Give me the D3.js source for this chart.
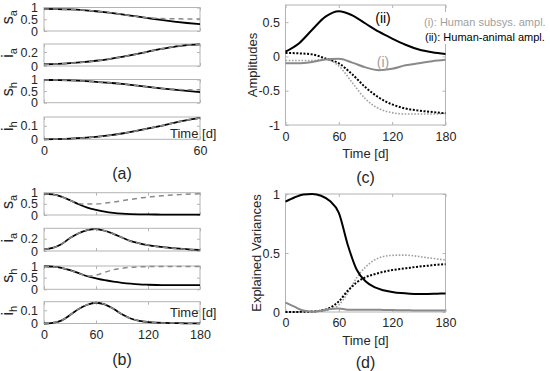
<!DOCTYPE html>
<html><head><meta charset="utf-8">
<script src="https://cdn.jsdelivr.net/npm/d3@7"></script>
<style>body{margin:0;background:#fff}svg{display:block}
svg text{font-family:Arial,"Liberation Sans",sans-serif !important;font-weight:400 !important;font-stretch:normal}</style>
</head><body><script>
// ---------- data ----------
// panel (a): first 60 days
const tA = [0,5,10,15,20,25,30,35,40,45,50,55,60];
const saA_solid  = [0.94,0.935,0.92,0.89,0.84,0.78,0.71,0.63,0.55,0.47,0.40,0.34,0.29];
const saA_dashed = [0.94,0.935,0.92,0.89,0.84,0.78,0.71,0.63,0.56,0.53,0.52,0.515,0.515];
const iaA        = [0.025,0.03,0.04,0.055,0.075,0.10,0.13,0.165,0.205,0.245,0.275,0.30,0.31];
const shA_solid  = [0.98,0.975,0.965,0.94,0.895,0.86,0.81,0.75,0.68,0.62,0.565,0.51,0.46];
const shA_dashed = [0.98,0.975,0.965,0.94,0.895,0.86,0.81,0.75,0.68,0.62,0.575,0.56,0.56];
const ihA        = [0,0.002,0.005,0.01,0.018,0.029,0.043,0.06,0.08,0.10,0.122,0.142,0.158];
// panel (b): 180 days
const tB = [0,10,20,30,40,50,60,70,80,90,100,110,120,130,140,150,160,170,180];
const saB_solid  = [0.95,0.92,0.82,0.66,0.48,0.33,0.23,0.15,0.095,0.06,0.04,0.03,0.025,0.022,0.02,0.02,0.02,0.02,0.02];
const saB_dashed = [0.95,0.92,0.82,0.66,0.51,0.49,0.49,0.53,0.58,0.64,0.70,0.76,0.80,0.84,0.87,0.90,0.92,0.94,0.95];
const iaB        = [0.028,0.05,0.11,0.21,0.29,0.34,0.355,0.33,0.28,0.22,0.16,0.125,0.097,0.075,0.058,0.045,0.033,0.024,0.017];
const shB_solid  = [0.99,0.97,0.92,0.82,0.69,0.56,0.47,0.39,0.33,0.28,0.24,0.21,0.195,0.185,0.18,0.178,0.176,0.175,0.175];
const shB_dashed = [0.99,0.97,0.92,0.82,0.69,0.57,0.61,0.73,0.84,0.90,0.945,0.965,0.975,0.98,0.98,0.98,0.98,0.98,0.98];
const ihB        = [0,0.005,0.022,0.064,0.11,0.142,0.157,0.145,0.112,0.07,0.038,0.02,0.011,0.006,0.004,0.003,0.002,0.001,0.001];
// panel (c): amplitudes
const tC = [0,15,30,45,60,75,90,105,120,135,150,165,180];
const ampHumanAnimal = [0.07,0.19,0.39,0.58,0.66,0.60,0.48,0.36,0.26,0.17,0.10,0.06,0.035];
const ampHumanSub    = [-0.10,-0.10,-0.08,-0.045,-0.035,-0.09,-0.16,-0.20,-0.18,-0.13,-0.10,-0.07,-0.05];
const ampDotBlack    = [0.05,0.045,0.03,-0.03,-0.10,-0.26,-0.45,-0.60,-0.70,-0.76,-0.79,-0.81,-0.83];
const ampDotGray     = [-0.06,-0.06,-0.06,-0.04,-0.14,-0.38,-0.62,-0.76,-0.82,-0.84,-0.84,-0.84,-0.83];
// panel (d): explained variances
const tD = [0,10,20,30,40,50,60,70,80,90,100,110,120,130,140,150,160,170,180];
const evBlack    = [0.935,0.97,0.995,1.0,0.985,0.94,0.84,0.57,0.36,0.26,0.21,0.185,0.17,0.16,0.155,0.153,0.153,0.155,0.157];
const evGray     = [0.08,0.045,0.012,0.003,0.01,0.025,0.03,0.02,0.02,0.02,0.02,0.018,0.016,0.015,0.014,0.013,0.013,0.012,0.012];
const evDotBlack = [0,0,0.002,0.004,0.012,0.035,0.09,0.18,0.25,0.295,0.32,0.34,0.355,0.365,0.375,0.385,0.392,0.40,0.405];
const evDotGray  = [0,0,0.002,0.003,0.008,0.02,0.06,0.16,0.29,0.38,0.44,0.47,0.48,0.482,0.48,0.47,0.46,0.45,0.44];
// ticks / labels
const ticksA = [0,60];
const ticksB = [0,60,120,180];
const sTicks = [0,0.5,1];
const iaTicks = [0,0.2];
const ihTicks = [0,0.1];
const ampTicks = [-1,-0.5,0,0.5];
const evTicks = [0,0.5,1];
const legendLabels = ["(i): Human  subsys. ampl.", "(ii): Human-animal  ampl."];

// ---------- drawing ----------
const BOX = '#b4b4b4', TXT = '#262626', GRAY = '#8a8a8a', LGRAY = '#a0a0a0';
const svg = d3.select('body').append('svg').attr('width',550).attr('height',371);

function axes(o){
  const g = svg.append('g');
  const x = d3.scaleLinear().domain(o.xd).range([o.x0,o.x1]);
  const y = d3.scaleLinear().domain(o.yd).range([o.y1,o.y0]);
  g.append('rect').attr('x',o.x0).attr('y',o.y0).attr('width',o.x1-o.x0).attr('height',o.y1-o.y0)
    .attr('fill','none').attr('stroke',BOX).attr('stroke-width',1);
  const fmt = d=>String(d);
  const style = (a,fs)=>{
    a.select('.domain').remove();
    a.selectAll('.tick line').attr('stroke',BOX);
    a.selectAll('.tick text').attr('fill',TXT).attr('font-size',fs);
    a.attr('font-family',null).attr('font-size',null);
  };
  const fs = o.fs;
  g.append('g').attr('transform',`translate(0,${o.y1})`)
    .call(d3.axisBottom(x).tickValues(o.xt).tickSize(-3).tickPadding(o.xpad||7)
      .tickFormat(o.xLabels?fmt:()=>'' )).call(a=>style(a,fs));
  g.append('g').attr('transform',`translate(0,${o.y0})`)
    .call(d3.axisTop(x).tickValues(o.xt).tickSize(-3).tickFormat(()=>'')).call(a=>style(a,fs));
  g.append('g').attr('transform',`translate(${o.x0},0)`)
    .call(d3.axisLeft(y).tickValues(o.yt).tickSize(-3).tickPadding(o.ypad||6).tickFormat(fmt)).call(a=>style(a,fs));
  g.append('g').attr('transform',`translate(${o.x1},0)`)
    .call(d3.axisRight(y).tickValues(o.yt).tickSize(-3).tickFormat(()=>'')).call(a=>style(a,fs));
  return {g,x,y};
}
function line(ax,t,v,c,w,dash){
  ax.g.append('path').datum(d3.zip(t,v))
    .attr('d', d3.line().x(d=>ax.x(d[0])).y(d=>ax.y(d[1])).curve(d3.curveMonotoneX))
    .attr('fill','none').attr('stroke',c).attr('stroke-width',w)
    .attr('stroke-dasharray',dash||null);
}
function subLabel(yc, main, sub){
  const t = svg.append('text').attr('transform',`translate(12.5,${yc}) rotate(-90)`)
    .attr('text-anchor','middle').attr('fill',TXT);
  t.append('tspan').attr('font-size',16).text(main);
  t.append('tspan').attr('font-size',11).attr('dy',4.5).text(sub);
}
function txt(x,y,s,fs,opts={}){
  const t = svg.append('text').attr('x',x).attr('y',y).attr('font-size',fs)
    .attr('fill',opts.fill||TXT).attr('text-anchor',opts.anchor||'start').text(s);
  if(opts.rot) t.attr('transform',`rotate(-90,${x},${y})`);
  return t;
}

// stacked sub-panels for (a) and (b)
function stack(t, xd, xt, rows, timeBase){
  rows.forEach((r,i)=>{
    const last = i===rows.length-1;
    const ax = axes({x0:44,x1:200,y0:r.top,y1:r.bot,xd:xd,yd:r.yd,xt:xt,yt:r.yt,
      xLabels:last,fs:12.5,xpad:7,ypad:6});
    line(ax,t,r.solid,'#000',1.8);
    line(ax,t,r.dashed,GRAY,1.5,'5,4');
    subLabel((r.top+r.bot)/2-2, r.lab[0], r.lab[1]);
    if(last) txt(170,timeBase,'Time [d]',13);
  });
}
stack(tA,[0,60],ticksA,[
  {top:7.5,bot:31,yd:[0,1],yt:sTicks,solid:saA_solid,dashed:saA_dashed,lab:['s','a']},
  {top:44,bot:66,yd:[0,0.315],yt:iaTicks,solid:iaA,dashed:iaA,lab:['i','a']},
  {top:79.5,bot:102.7,yd:[0,1],yt:sTicks,solid:shA_solid,dashed:shA_dashed,lab:['s','h']},
  {top:117,bot:139.3,yd:[0,0.165],yt:ihTicks,solid:ihA,dashed:ihA,lab:['i','h']}
],137.5);
stack(tB,[0,180],ticksB,[
  {top:192.7,bot:215,yd:[0,1],yt:sTicks,solid:saB_solid,dashed:saB_dashed,lab:['s','a']},
  {top:228.3,bot:251,yd:[0,0.37],yt:iaTicks,solid:iaB,dashed:iaB,lab:['i','a']},
  {top:266,bot:289.3,yd:[0,1],yt:sTicks,solid:shB_solid,dashed:shB_dashed,lab:['s','h']},
  {top:301.7,bot:323.5,yd:[0,0.165],yt:ihTicks,solid:ihB,dashed:ihB,lab:['i','h']}
],316.7);
txt(122,178.5,'(a)',16,{anchor:'middle'});
txt(122,364.5,'(b)',16,{anchor:'middle'});

// (c)
const axC = axes({x0:285.5,x1:445.5,y0:5,y1:125,xd:[0,180],yd:[-1,0.75],xt:ticksB,yt:ampTicks,
  xLabels:true,fs:12.5,xpad:7,ypad:5.5});
line(axC,tC,ampDotGray,LGRAY,1.6,'1.6,1.6');
line(axC,tC,ampDotBlack,'#000',2,'2,1.6');
line(axC,tC,ampHumanSub,GRAY,2);
line(axC,tC,ampHumanAnimal,'#000',2);
txt(383,23,'(ii)',14,{anchor:'middle',fill:'#000'});
txt(383,67,'(i)',14,{anchor:'middle',fill:LGRAY});
svg.append('rect').attr('x',421).attr('y',12).attr('width',129).attr('height',32).attr('fill','#fff');
txt(424,25.5,legendLabels[0],11,{fill:LGRAY});
txt(425,40.5,legendLabels[1],11,{fill:'#000'});
txt(365.5,158,'Time [d]',13,{anchor:'middle'});
txt(257,65,'Amplitudes',13,{anchor:'middle',rot:true});
txt(365.5,182.5,'(c)',16,{anchor:'middle'});

// (d)
const axD = axes({x0:285.5,x1:445.5,y0:194,y1:312,xd:[0,180],yd:[0,1],xt:ticksB,yt:evTicks,
  xLabels:true,fs:12.5,xpad:6.5,ypad:5.5});
line(axD,tD,evDotGray,LGRAY,1.6,'1.6,1.6');
line(axD,tD,evDotBlack,'#000',2,'2,1.6');
line(axD,tD,evGray,GRAY,2);
line(axD,tD,evBlack,'#000',2);
txt(365.5,345,'Time [d]',13,{anchor:'middle'});
txt(260.5,253,'Explained Variances',13,{anchor:'middle',rot:true});
txt(365.5,367.5,'(d)',16,{anchor:'middle'});
</script></body></html>
